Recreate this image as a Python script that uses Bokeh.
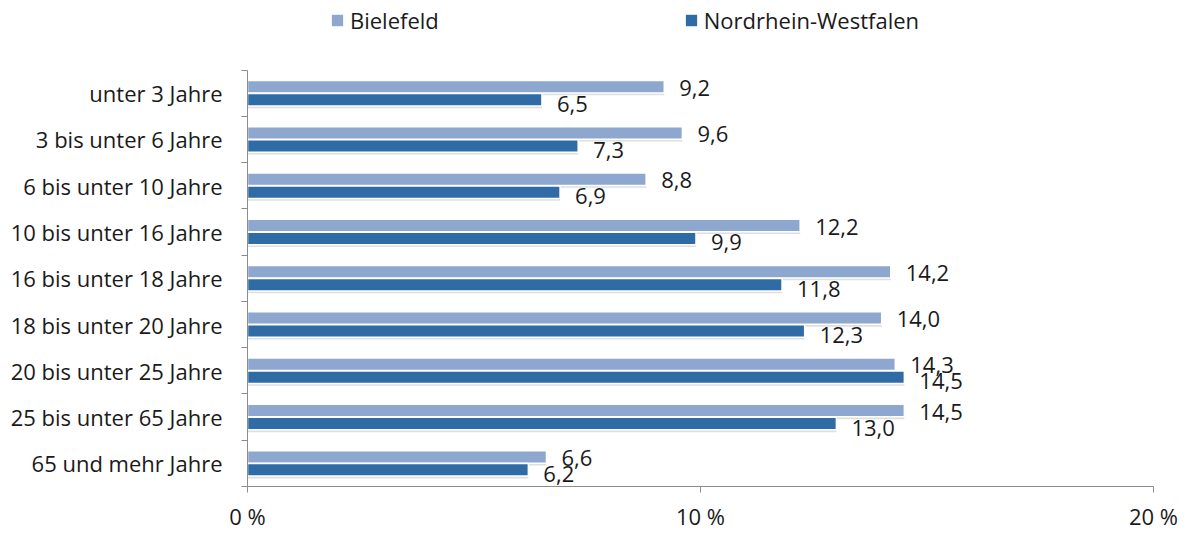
import numpy as np
from bokeh.plotting import figure
from bokeh.models import (ColumnDataSource, Range1d, FixedTicker, Legend, LegendItem)
from bokeh.transform import dodge
from bokeh.core.properties import value
from bokeh.embed import file_html
from bokeh.resources import INLINE

categories = ["unter 3 Jahre", "3 bis unter 6 Jahre", "6 bis unter 10 Jahre",
              "10 bis unter 16 Jahre", "16 bis unter 18 Jahre", "18 bis unter 20 Jahre",
              "20 bis unter 25 Jahre", "25 bis unter 65 Jahre", "65 und mehr Jahre"]
bielefeld = [9.2, 9.6, 8.8, 12.2, 14.2, 14.0, 14.3, 14.5, 6.6]
nrw = [6.5, 7.3, 6.9, 9.9, 11.8, 12.3, 14.5, 13.0, 6.2]
x_ticks = [0, 10, 20]
x_tick_labels = ["0 %", "10 %", "20 %"]
series_names = ["Bielefeld", "Nordrhein-Westfalen"]

FONT = "Open Sans"
C_BI = "#8DA7CF"
C_NRW = "#2F6CA5"
TXT = "#1a1a1a"

n = len(categories)
pos = np.arange(n) + 0.5
fmt = lambda v: f"{v:.1f}".replace(".", ",")
src = ColumnDataSource(dict(
    pos=pos, cat=categories, bi=bielefeld, nrw=nrw,
    bi_lbl=[fmt(v) for v in bielefeld], nrw_lbl=[fmt(v) for v in nrw],
))

# layout (px): category area spans 70..489, frame extends to top for legend room
W, H = 1190, 533
cat_top, cat_bottom = 70, 489
px_per_unit = (cat_bottom - cat_top) / n
extra = cat_top / px_per_unit

p = figure(width=W, height=H, output_backend="svg", toolbar_location=None,
           x_range=Range1d(0, 20), y_range=Range1d(n, -extra),
           min_border_left=247, min_border_right=37, min_border_top=0,
           min_border_bottom=H - cat_bottom)
p.outline_line_color = None
p.xgrid.visible = False
p.ygrid.visible = False
p.background_fill_color = "white"
p.border_fill_color = "white"

bh = 0.27
# subtle shadows
p.hbar(y=dodge("pos", -0.14 + 0.05, range=p.y_range), right="bi", left=0, height=bh,
       fill_color="#B8B8B8", fill_alpha=0.45, line_color=None, source=src)
p.hbar(y=dodge("pos", 0.14 + 0.05, range=p.y_range), right="nrw", left=0, height=bh,
       fill_color="#B8B8B8", fill_alpha=0.45, line_color=None, source=src)

r_bi = p.hbar(y=dodge("pos", -0.14, range=p.y_range), right="bi", left=0, height=bh,
              fill_color=C_BI, line_color="white", line_width=1.5, source=src)
r_nrw = p.hbar(y=dodge("pos", 0.14, range=p.y_range), right="nrw", left=0, height=bh,
               fill_color=C_NRW, line_color="white", line_width=1.5, source=src)

p.text(x="bi", y=dodge("pos", -0.14, range=p.y_range), text="bi_lbl", source=src,
       x_offset=15, y_offset=1, text_baseline="middle", text_align="left",
       text_font=value(FONT), text_font_size="22px", text_color=TXT)
p.text(x="nrw", y=dodge("pos", 0.14, range=p.y_range), text="nrw_lbl", source=src,
       x_offset=15, y_offset=4, text_baseline="middle", text_align="left",
       text_font=value(FONT), text_font_size="22px", text_color=TXT)

# axes
ax = p.xaxis[0]
ax.ticker = FixedTicker(ticks=x_ticks)
ax.major_label_overrides = {t: l for t, l in zip(x_ticks, x_tick_labels)}
ax.major_tick_out = 6
ax.major_tick_in = 0
ax.minor_tick_line_color = None
ax.axis_line_color = "#8C8C8C"
ax.major_tick_line_color = "#8C8C8C"
ax.major_label_text_font = FONT
ax.major_label_text_font_size = "22px"
ax.major_label_text_color = TXT
ax.major_label_standoff = 8

ay = p.yaxis[0]
ay.bounds = (0, n)
ay.ticker = FixedTicker(ticks=list(pos), minor_ticks=list(range(n + 1)))
ay.major_label_overrides = {float(c): l for c, l in zip(pos, categories)}
ay.major_tick_line_color = None
ay.minor_tick_out = 6
ay.minor_tick_in = 0
ay.minor_tick_line_color = "#8C8C8C"
ay.axis_line_color = "#8C8C8C"
ay.major_label_text_font = FONT
ay.major_label_text_font_size = "22px"
ay.major_label_text_color = TXT
ay.major_label_standoff = 19

legend = Legend(items=[LegendItem(label=series_names[0], renderers=[r_bi]),
                       LegendItem(label=series_names[1], renderers=[r_nrw])],
                orientation="horizontal", location=(82, cat_bottom - 38))
legend.label_text_font = FONT
legend.label_text_font_size = "22px"
legend.label_text_color = TXT
legend.glyph_width = 16
legend.glyph_height = 16
legend.label_standoff = 5
legend.spacing = 244
legend.border_line_color = None
legend.background_fill_alpha = 0
legend.padding = 4
legend.margin = 0
p.add_layout(legend)

open("out.html", "w").write(file_html(p, INLINE))
